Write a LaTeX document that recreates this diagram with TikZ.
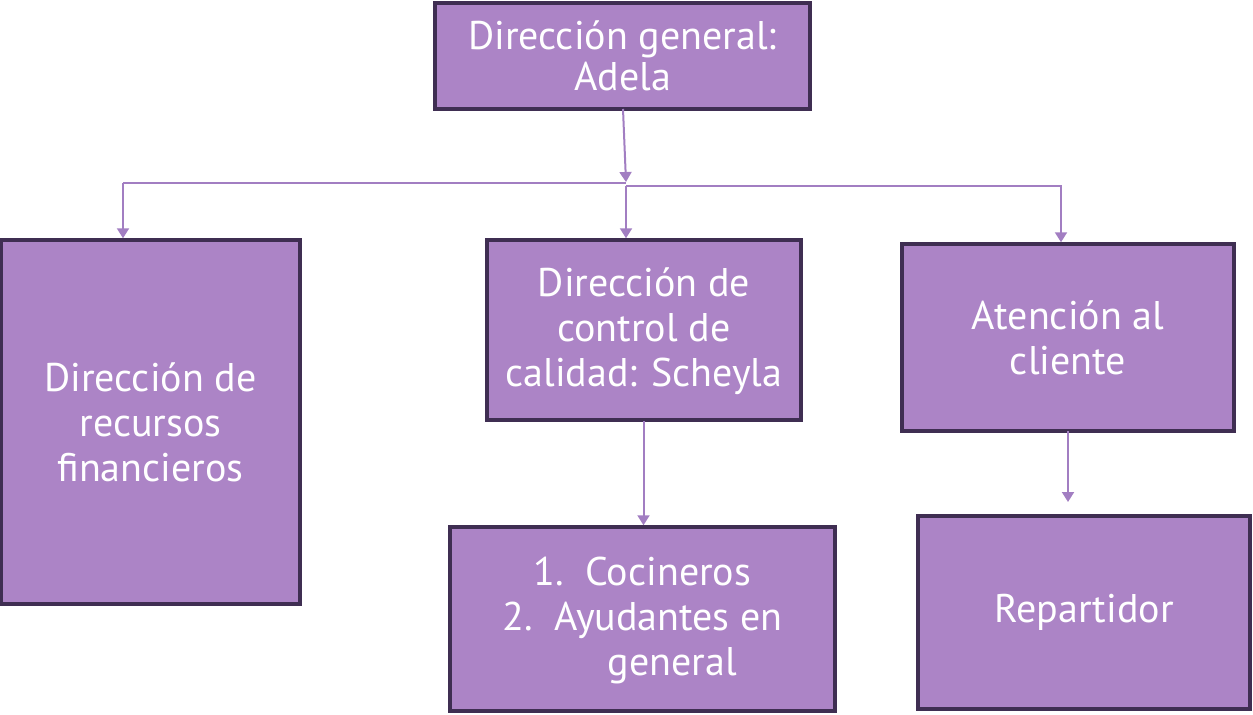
\documentclass[tikz,border=0pt]{standalone}
\usepackage{fontspec}
\setmainfont{PT Sans}
\usetikzlibrary{arrows.meta}
\definecolor{boxfill}{HTML}{AC84C6}
\definecolor{boxline}{HTML}{3F2E52}
\definecolor{connc}{HTML}{A27EC2}
\begin{document}
\begin{tikzpicture}[x=0.75pt,y=-0.75pt,
  box/.style={draw=boxline, fill=boxfill, line width=2.6pt, text=white, inner sep=0pt,
    align=center, font=\fontsize{30}{33.75}\selectfont},
  sz/.style 2 args={minimum width={#1*0.75pt}, minimum height={#2*0.75pt}},
  conn/.style={draw=connc, line width=1.5pt},
  arr/.style={conn, -{Triangle[width=9pt,length=7.5pt]}}]
\useasboundingbox (0,0) rectangle (1253,714);
\node[box, sz={375}{106}, font=\fontsize{30}{30.75}\selectfont] (top) at (622.5,56) {Dirección general:\\Adela};
\node[box, sz={299}{364}] (fin) at (150.5,422) {Dirección de\\recursos\\financieros};
\node[box, sz={314}{180}] (cal) at (644,330) {\rule{0pt}{0.8em}Dirección de\\control de\\calidad: Scheyla};
\node[box, sz={332}{187}] (cli) at (1068,337.5) {Atención al\\cliente};
\node[box, sz={385}{184}] (coc) at (642.5,619) {\rule{0pt}{0.8em}1.\ \ Cocineros\\2.\ \ Ayudantes en\\\hspace*{1.5em}general};
\node[box, sz={332}{193}] (rep) at (1084,612.5) {Repartidor};
\coordinate (s0) at (623,109);
\coordinate (j1) at (626,182);
\coordinate (h1) at (123,183);
\coordinate (j2) at (626,186);
\coordinate (h2) at (1061,186);
\coordinate (s1) at (643.5,421);
\coordinate (s2) at (1068,431);
\coordinate (e2) at (1068,502);
\draw[arr] (s0) -- (j1);
\draw[conn] (626,183) -- (h1);
\draw[arr] (h1) -- (h1 |- fin.north);
\draw[arr] (j2) -- (j2 |- cal.north);
\draw[arr] (j2) -- (h2) -- (h2 |- cli.north);
\draw[arr] (s1) -- (s1 |- coc.north);
\draw[arr] (s2) -- (e2);
\end{tikzpicture}
\end{document}
